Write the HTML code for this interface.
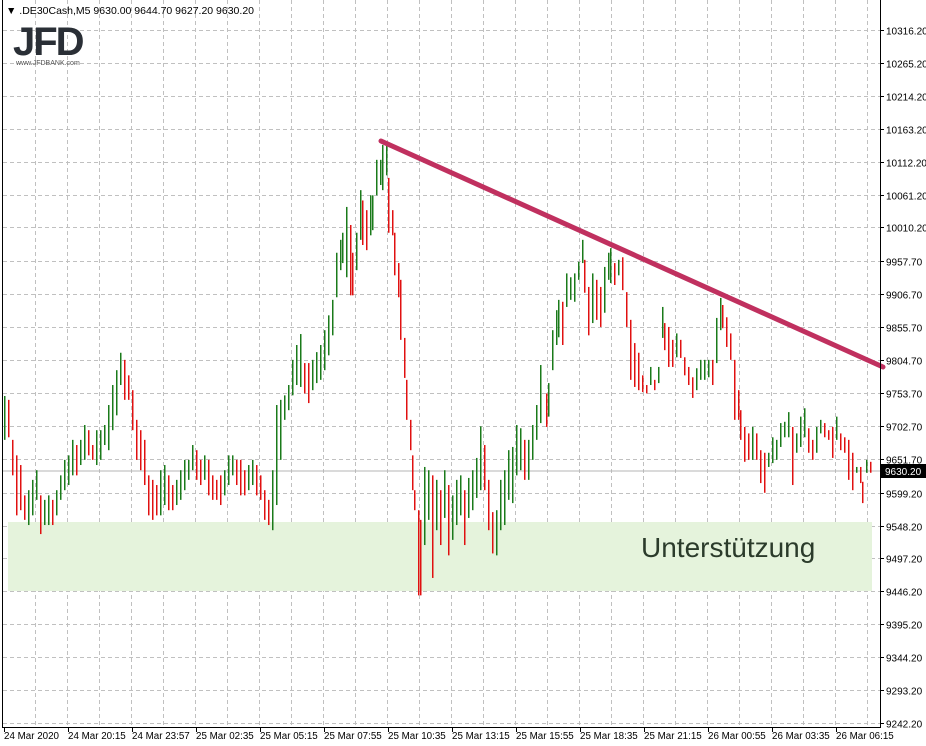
<!DOCTYPE html>
<html><head><meta charset="utf-8"><style>
body{margin:0;background:#fff;}
svg{display:block;font-family:"Liberation Sans",sans-serif;}
</style></head><body>
<svg id="c" width="926" height="746" viewBox="0 0 926 746">
<rect x="0" y="0" width="926" height="746" fill="#fff"/>
<g id="grid"></g>
<rect x="8" y="522" width="864" height="69" fill="#e5f3dc"/>
<text x="641" y="557" font-size="28" fill="#2b3b2b">Unterstützung</text>
<line x1="3" y1="471" x2="880" y2="471" stroke="#b4b4b4" stroke-width="1"/>
<g id="bars"></g>
<line x1="381" y1="141" x2="883" y2="367" stroke="#c0305f" stroke-width="5" stroke-linecap="round"/>
<line x1="2.5" y1="0" x2="2.5" y2="727" stroke="#000"/>
<line x1="2" y1="727.5" x2="880" y2="727.5" stroke="#000"/>
<line x1="880.5" y1="0" x2="880.5" y2="728" stroke="#000"/>
<g id="yticks"></g>
<g id="xticks"></g>
<rect x="881" y="464" width="45" height="14" fill="#000"/>
<text x="885" y="475" font-size="10" fill="#fff">9630.20</text>
<text x="6" y="14" font-size="10.5" fill="#000">▼ .DE30Cash,M5  9630.00 9644.70 9627.20 9630.20</text>
<g>
<text x="13" y="55" font-size="40" font-weight="bold" fill="#2a2f36" letter-spacing="-2">JFD</text>
<text x="16" y="65" font-size="7" fill="#555">www.JFDBANK.com</text>
</g>
</svg>
<script>
const priceTicks=[10316.2,10265.2,10214.2,10163.2,10112.2,10061.2,10010.2,9957.7,9906.7,9855.7,9804.7,9753.7,9702.7,9651.7,9599.2,9548.2,9497.2,9446.2,9395.2,9344.2,9293.2,9242.2];
const timeLabels=["24 Mar 2020","24 Mar 20:15","24 Mar 23:57","25 Mar 02:35","25 Mar 05:15","25 Mar 07:55","25 Mar 10:35","25 Mar 13:15","25 Mar 15:55","25 Mar 18:35","25 Mar 21:15","26 Mar 00:55","26 Mar 03:35","26 Mar 06:15"];
const barIndex=[0,2,4,6,8,10,12,14,16,18,20,22,24,26,28,30,32,34,36,38,40,42,44,46,48,50,52,54,56,58,60,62,64,66,68,70,72,74,76,78,80,82,84,86,88,90,92,94,96,98,100,102,104,106,108,110,112,114,116,118,120,122,124,126,128,130,132,134,136,138,140,142,144,146,148,
150,152,154,156,158,160,162,164,166,168,169,171,173,174,176,178,179,181,183,184,186,188,189,191,192,194,195,197,198,200,201,203,204,205,207,208,210,212,214,216,218,220,222,224,226,228,230,232,234,236,238,240,242,244,246,248,250,252,254,256,258,260,262,264,266,268,271,272,274,276,277,279,281,283,285,287,289,290,292,294,296,298,300,302,303,305,307,309,311,313,315,317,319,321,323,325,327,329,330,332,334,336,338,340,342,344,346,348,350,352,354,356,358,359,361,363,365,367,368,370,372,374,376,378,380,382,384,386,388,390,392,394,396,398,400,402,404,406,408,410,412,414,416,418,420,422,424,426,428,429,431,433];
const highs=[9749,9743,9681,9657,9642,9595,9603,9619,9634,9595,9588,9595,9588,9603,9626,9650,9657,9681,9673,9681,9704,9696,9673,9696,9696,9704,9735,9766,9789,9816,9805,9781,9758,9712,9696,9681,9626,9619,9611,9634,9642,9626,9611,9619,9634,9650,9650,9673,9665,9650,9657,9650,9626,9619,9626,9634,9657,9657,9650,9650,9634,9642,9650,9642,9626,9603,9588,9634,9735,9743,9750,9766,9805,9828,9845,9800,9800,9805,9817,9828,9851,9874,9898,9971,9991,10002,10042,10014,9971,10002,10068,10052,10037,10060,10060,10115,10115,10138,10138,10087,10037,10002,9955,9929,9839,9774,9712,9657,9603,9572,9557,9639,9634,9626,9619,9603,9634,9611,9595,9619,9626,9603,9622,9634,9653,9702,9673,9619,9569,9572,9619,9634,9665,9670,9704,9699,9681,9681,9704,9735,9797,9753,9769,9851,9882,9898,9895,9939,9933,9939,9957,9991,9960,9918,9939,9929,9918,9949,9971,9978,9955,9960,9964,9910,9867,9831,9816,9781,9766,9794,9774,9794,9887,9862,9856,9836,9846,9836,9809,9794,9778,9792,9805,9805,9805,9805,9870,9901,9890,9871,9846,9805,9758,9727,9701,9691,9701,9691,9665,9661,9661,9685,9681,9707,9709,9724,9701,9691,9717,9730,9699,9681,9701,9712,9707,9696,9701,9717,9691,9685,9681,9661,9639,9639,9616,9650,9647];
const lows=[9681,9685,9626,9564,9572,9557,9549,9564,9588,9535,9549,9549,9549,9564,9588,9603,9611,9626,9626,9642,9650,9657,9650,9642,9650,9673,9665,9696,9719,9766,9743,9743,9696,9650,9634,9611,9564,9557,9564,9564,9580,9572,9572,9580,9588,9603,9619,9634,9619,9611,9619,9595,9588,9588,9580,9595,9611,9626,9611,9595,9595,9603,9611,9595,9588,9557,9549,9541,9580,9650,9712,9727,9750,9766,9763,9753,9738,9758,9769,9774,9789,9812,9843,9902,9944,9955,9933,9905,9905,9944,9991,9983,9975,9998,10006,10060,10076,10068,10091,10002,9998,9936,9902,9836,9777,9712,9665,9603,9572,9440,9440,9518,9557,9467,9541,9518,9560,9502,9526,9549,9564,9518,9560,9572,9591,9603,9603,9541,9505,9502,9541,9549,9588,9583,9626,9634,9619,9619,9650,9681,9707,9701,9717,9789,9828,9840,9828,9887,9898,9895,9929,9955,9909,9843,9862,9867,9856,9878,9929,9924,9921,9936,9913,9856,9774,9763,9758,9755,9753,9766,9758,9769,9839,9820,9794,9794,9809,9808,9781,9766,9746,9758,9774,9774,9778,9766,9800,9851,9854,9825,9805,9712,9712,9681,9647,9650,9650,9650,9614,9599,9639,9645,9650,9670,9685,9685,9611,9661,9670,9685,9661,9650,9661,9691,9685,9681,9653,9681,9665,9661,9619,9603,9630,9614,9583,9630,9630];

const NS="http://www.w3.org/2000/svg";
function yScale(p){return 30+(10316.2-p)*0.64525;}
function xScale(i){return 4+2*i;}

const grid=document.getElementById('grid');
for(let i=0;i<priceTicks.length;i++){
  const y=Math.round(yScale(priceTicks[i]))+0.5;
  const l=document.createElementNS(NS,'line');
  
  
  l.setAttribute('x1',3);l.setAttribute('x2',880);l.setAttribute('y1',y);l.setAttribute('y2',y);
  l.setAttribute('stroke','#c0c0c0');l.setAttribute('stroke-dasharray','4,3');
  grid.appendChild(l);
  const t=document.createElementNS(NS,'text');
  
  
  t.setAttribute('x',886);t.setAttribute('y',y+4);t.setAttribute('font-size','10');t.setAttribute('fill','#000');
  t.textContent=priceTicks[i].toFixed(2);
  document.getElementById('yticks').appendChild(t);
  const tk=document.createElementNS(NS,'line');
  
  
  tk.setAttribute('x1',880);tk.setAttribute('x2',884);tk.setAttribute('y1',y);tk.setAttribute('y2',y);tk.setAttribute('stroke','#000');
  document.getElementById('yticks').appendChild(tk);
}
for(let k=0;k<27;k++){
  const x=35.5+32*k;
  const l=document.createElementNS(NS,'line');
  
  
  l.setAttribute('x1',x);l.setAttribute('x2',x);l.setAttribute('y1',0);l.setAttribute('y2',727);
  l.setAttribute('stroke','#c0c0c0');l.setAttribute('stroke-dasharray','4,3');
  grid.appendChild(l);
}
for(let i=0;i<timeLabels.length;i++){
  const x=xScale(i*32);
  const t=document.createElementNS(NS,'text');
  
  
  t.setAttribute('x',x);t.setAttribute('y',739);t.setAttribute('font-size','9.8');t.setAttribute('fill','#000');
  t.textContent=timeLabels[i];
  document.getElementById('xticks').appendChild(t);
  const tk=document.createElementNS(NS,'line');
  
  
  tk.setAttribute('x1',x+0.5);tk.setAttribute('x2',x+0.5);tk.setAttribute('y1',727);tk.setAttribute('y2',732);tk.setAttribute('stroke','#000');
  document.getElementById('xticks').appendChild(tk);
}
const bars=document.getElementById('bars');
for(let i=0;i<barIndex.length;i++){
  const mid=(highs[i]+lows[i])/2;
  const prev=i>0?(highs[i-1]+lows[i-1])/2:mid;
  const up=mid>=prev;
  const x=xScale(barIndex[i])+0.75;
  const l=document.createElementNS(NS,'line');
  
  
  l.setAttribute('x1',x);l.setAttribute('x2',x);
  l.setAttribute('y1',yScale(highs[i]));l.setAttribute('y2',yScale(lows[i]));
  l.setAttribute('stroke',up?'#1a7a1a':'#e01010');l.setAttribute('stroke-width','1.5');
  bars.appendChild(l);
}
</script>
</body></html>
